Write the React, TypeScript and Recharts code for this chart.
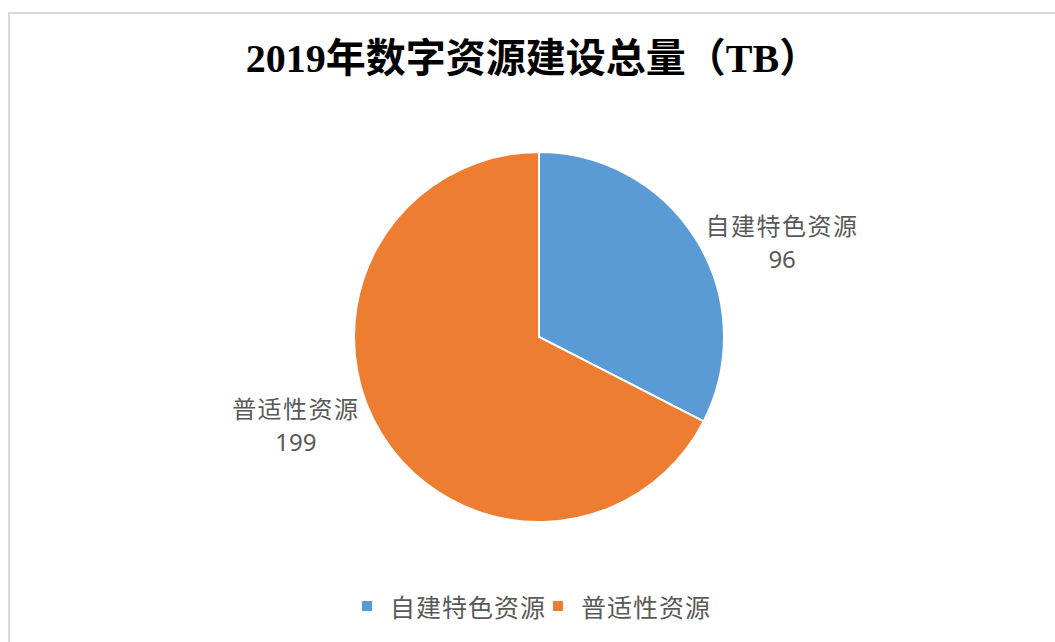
import { PieChart, Pie, Cell, Legend } from 'recharts';

const categories = ['自建特色资源', '普适性资源'];
const values = [96, 199];
const title = '2019年数字资源建设总量（TB）';

const COLORS = ['#5B9BD5', '#ED7D31'];
const FONT = "'Noto Sans CJK SC', 'Noto Sans', sans-serif";
const RAD = Math.PI / 180;

const data = categories.map((name, i) => ({ name, value: values[i] }));

// data labels sit outside the pie, pushed out more sideways than up/down
const renderLabel = (props: any) => {
  const { cx, cy, midAngle, outerRadius, name, value } = props;
  const x = cx + Math.cos(-midAngle * RAD) * outerRadius * 1.54;
  const y = cy + Math.sin(-midAngle * RAD) * outerRadius * 0.95;
  return (
    <g>
      <text
        x={x}
        y={y - 21}
        textAnchor="middle"
        dominantBaseline="central"
        fill="#595959"
        style={{ fontFamily: FONT, fontSize: 24, letterSpacing: 1.5 }}
      >
        {name}
      </text>
      <text
        x={x}
        y={y + 13}
        textAnchor="middle"
        dominantBaseline="central"
        fill="#595959"
        style={{ fontFamily: "'Noto Sans', sans-serif", fontSize: 24 }}
      >
        {value}
      </text>
    </g>
  );
};

// legend keeps the data order (Recharts would sort it by name)
const renderLegend = () => (
  <div
    style={{
      display: 'flex',
      justifyContent: 'center',
      alignItems: 'center',
      paddingLeft: 15,
      fontFamily: FONT,
      fontSize: 25,
      letterSpacing: 1,
      color: '#595959',
      height: 30,
    }}
  >
    {categories.map((name, i) => (
      <div key={name} style={{ display: 'flex', alignItems: 'center', marginRight: 7 }}>
        <span
          style={{
            display: 'inline-block',
            width: 10,
            height: 10,
            background: COLORS[i],
            marginRight: 18,
          }}
        />
        <span>{name}</span>
      </div>
    ))}
  </div>
);

export default function App() {
  return (
    <div
      style={{
        position: 'absolute',
        left: 8,
        top: 12,
        width: 1047,
        height: 630,
        borderTop: '2px solid #d9d9d9',
        borderLeft: '2px solid #d9d9d9',
        boxSizing: 'border-box',
        background: '#fff',
        overflow: 'hidden',
      }}
    >
      <div
        style={{
          position: 'absolute',
          left: 0,
          top: 25,
          width: 1045,
          textAlign: 'center',
          fontFamily: "'Liberation Serif', 'Noto Sans CJK SC', serif",
          fontWeight: 'bold',
          fontSize: 40,
          lineHeight: '40px',
          color: '#000',
        }}
      >
        {title}
      </div>
      <PieChart width={1045} height={628} margin={{ top: 0, right: 0, bottom: 0, left: 0 }}>
        <Pie
          data={data}
          dataKey="value"
          nameKey="name"
          cx={529}
          cy={323}
          outerRadius={185}
          startAngle={90}
          endAngle={-270}
          stroke="#ffffff"
          strokeWidth={2}
          label={renderLabel}
          labelLine={false}
          isAnimationActive={false}
        >
          {data.map((d, i) => (
            <Cell key={d.name} fill={COLORS[i]} />
          ))}
        </Pie>
        <Legend
          verticalAlign="bottom"
          content={renderLegend}
          wrapperStyle={{ bottom: 21 }}
        />
      </PieChart>
    </div>
  );
}
